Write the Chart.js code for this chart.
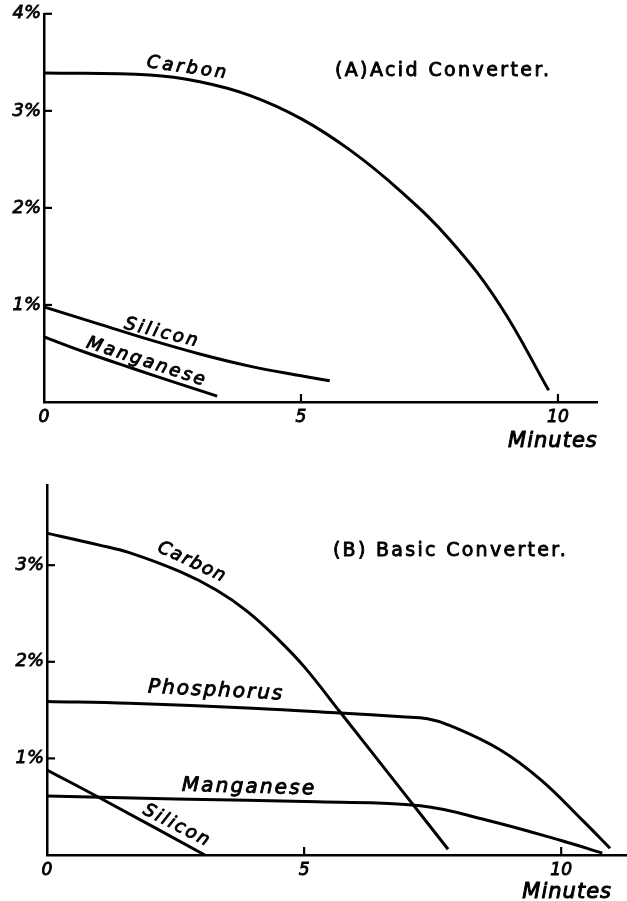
<!DOCTYPE html>
<html><head><meta charset="utf-8">
<script src="https://cdn.jsdelivr.net/npm/chart.js@4.4.1/dist/chart.umd.min.js"></script>
<style>
html,body{margin:0;padding:0;background:#fff;}
#wrapA{position:absolute;left:0;top:0;width:627px;height:450px;}
#wrapB{position:absolute;left:0;top:450px;width:627px;height:451px;}
</style></head><body>
<div id="wrapA"><canvas id="chartA"></canvas></div>
<div id="wrapB"><canvas id="chartB"></canvas></div>
<script>
// ---- (A) Acid converter ----
const acidCarbonMin = [0, 2.06, 3.03, 4.0, 5.0, 5.97, 6.92, 7.9, 8.87, 9.82];
const acidCarbonPct = [3.39, 3.37, 3.30, 3.16, 2.92, 2.59, 2.18, 1.67, 1.00, 0.12];
const acidSiliconMin = [0, 1.09, 2.0, 3.03, 4.0, 5.0, 5.56];
const acidSiliconPct = [0.98, 0.80, 0.65, 0.495, 0.37, 0.27, 0.22];
const acidManganeseMin = [0, 0.76, 1.73, 2.5, 3.37];
const acidManganesePct = [0.67, 0.52, 0.345, 0.21, 0.06];
// ---- (B) Basic converter ----
const basicCarbonMin = [0, 1, 1.6, 2.6, 3.3, 3.9, 4.5, 5.0, 5.7, 6.87, 7.8];
const basicCarbonPct = [3.33, 3.21, 3.13, 2.93, 2.74, 2.52, 2.23, 1.95, 1.48, 0.69, 0.06];
const basicPhosMin = [0, 1.6, 4, 5.7, 6.9, 7.4, 7.84, 8.81, 9.6, 10.43, 10.95];
const basicPhosPct = [1.59, 1.57, 1.52, 1.47, 1.43, 1.41, 1.34, 1.09, 0.78, 0.35, 0.07];
const basicManganeseMin = [0, 2.5, 5.25, 7.26, 8.56, 10, 10.8];
const basicManganesePct = [0.61, 0.58, 0.55, 0.51, 0.36, 0.15, 0.02];
const basicSiliconMin = [0, 1.03, 3.07];
const basicSiliconPct = [0.88, 0.59, 0];
// ---- ticks ----
const xTickLabels = [0, 5, 10];
const xAxisTitle = 'Minutes';

const pts = (xs, ys) => xs.map((x, i) => ({x, y: ys[i]}));
const HAND = '"DejaVu Sans"';

function inkText(ctx, text, x, y, sw) {
  ctx.fillText(text, x, y);
  ctx.lineWidth = sw;
  ctx.strokeText(text, x, y);
}

const decorPlugin = {
  id: 'decor',
  afterDraw(chart, args, o) {
    const ctx = chart.ctx, xs = chart.scales.x, ys = chart.scales.y;
    ctx.save();
    ctx.strokeStyle = '#000'; ctx.fillStyle = '#000'; ctx.lineWidth = 2.2;
    // inside ticks
    ys.ticks.forEach(t => {
      if (t.value <= 0) return;
      const py = ys.getPixelForValue(t.value);
      ctx.lineWidth = 2.2;
      ctx.beginPath(); ctx.moveTo(xs.left, py); ctx.lineTo(xs.left + 8, py); ctx.stroke();
    });
    xs.ticks.forEach(t => {
      if (t.value <= 0) return;
      const px = xs.getPixelForValue(t.value);
      ctx.lineWidth = 2.2;
      ctx.beginPath(); ctx.moveTo(px, ys.bottom); ctx.lineTo(px, ys.bottom - 8); ctx.stroke();
    });
    ctx.lineJoin = 'round';
    // curve labels
    o.labels.forEach(l => {
      ctx.save();
      ctx.translate(xs.getPixelForValue(l.x), ys.getPixelForValue(l.y));
      ctx.rotate(l.angle * Math.PI / 180);
      ctx.font = `oblique ${l.size}px ${HAND}`;
      ctx.letterSpacing = l.spacing + 'px';
      ctx.textAlign = 'center'; ctx.textBaseline = 'middle';
      inkText(ctx, l.text, 0, 0, 0.9);
      ctx.restore();
    });
    // title
    ctx.font = `normal ${o.title.size}px ${HAND}`;
    ctx.letterSpacing = o.title.spacing + 'px';
    ctx.textAlign = 'left'; ctx.textBaseline = 'alphabetic';
    inkText(ctx, o.title.text, xs.getPixelForValue(o.title.x), ys.getPixelForValue(o.title.y), 0.9);
    // axis title
    ctx.font = `oblique 21px ${HAND}`;
    ctx.letterSpacing = '1px';
    ctx.textAlign = 'center';
    inkText(ctx, xAxisTitle, xs.getPixelForValue(10) + o.minutesDx, ys.bottom + o.minutesDy, 1);
    ctx.restore();
  }
};

function makeChart(id, datasets, cfg) {
  return new Chart(document.getElementById(id), {
    type: 'line',
    data: {datasets: datasets.map(d => ({
      data: d, borderColor: '#000', borderWidth: 3, pointRadius: 0,
      tension: 0.4, fill: false
    }))},
    options: {
      responsive: true, maintainAspectRatio: false, animation: false, devicePixelRatio: 1,
      layout: {padding: cfg.padding},
      plugins: {legend: {display: false}, tooltip: {enabled: false}, decor: cfg.decor},
      scales: {
        x: {
          type: 'linear', min: 0, max: cfg.xMax,
          grid: {display: false, drawTicks: false},
          border: {display: true, color: '#000', width: 2.5},
          ticks: {stepSize: 5, includeBounds: false, padding: 5, color: '#000',
            textStrokeColor: '#000', textStrokeWidth: 0.9,
            font: {family: 'DejaVu Sans', size: 17, style: 'italic'},
            callback: v => xTickLabels.includes(v) ? String(v) : ''},
          afterFit: s => { s.height = cfg.xHeight; }
        },
        y: {
          type: 'linear', min: 0, max: cfg.yMax,
          grid: {display: false, drawTicks: false},
          border: {display: true, color: '#000', width: 2.5},
          ticks: {stepSize: 1, includeBounds: false, padding: 3, color: '#000',
            textStrokeColor: '#000', textStrokeWidth: 0.8,
            font: {family: 'DejaVu Sans', size: 18, style: 'italic'},
            callback: v => v > 0 ? v + '%' : ''},
          afterFit: s => { s.width = cfg.yWidth; }
        }
      }
    },
    plugins: [decorPlugin]
  });
}

makeChart('chartA', [
  pts(acidCarbonMin, acidCarbonPct),
  pts(acidSiliconMin, acidSiliconPct),
  pts(acidManganeseMin, acidManganesePct)
], {
  padding: {top: 13, right: 30, left: 0, bottom: 0},
  xMax: 10.76, yMax: 4, xHeight: 48, yWidth: 44,
  decor: {
    labels: [
      {text: 'Carbon', x: 2.80, y: 3.44, angle: 8, size: 18, spacing: 3},
      {text: 'Silicon', x: 2.30, y: 0.71, angle: 14, size: 18, spacing: 2.7},
      {text: 'Manganese', x: 2.0, y: 0.41, angle: 18, size: 18, spacing: 2.5}
    ],
    title: {text: '(A)Acid Converter.', x: 5.66, y: 3.36, size: 19, spacing: 2.4},
    minutesDx: -5, minutesDy: 45
  }
});

makeChart('chartB', [
  pts(basicCarbonMin, basicCarbonPct),
  pts(basicPhosMin, basicPhosPct),
  pts(basicManganeseMin, basicManganesePct),
  pts(basicSiliconMin, basicSiliconPct)
], {
  padding: {top: 35, right: 0, left: 0, bottom: 0},
  xMax: 11.28, yMax: 3.83, xHeight: 46, yWidth: 47,
  decor: {
    labels: [
      {text: 'Carbon', x: 2.82, y: 3.03, angle: 25, size: 18, spacing: 1.5},
      {text: 'Phosphorus', x: 3.29, y: 1.70, angle: 3, size: 20, spacing: 2},
      {text: 'Manganese', x: 3.93, y: 0.70, angle: 1.5, size: 20, spacing: 2.2},
      {text: 'Silicon', x: 2.53, y: 0.30, angle: 27, size: 18, spacing: 2.2}
    ],
    title: {text: '(B) Basic Converter.', x: 5.56, y: 3.09, size: 19, spacing: 2.3},
    minutesDx: 6, minutesDy: 43
  }
});
</script>
</body></html>
